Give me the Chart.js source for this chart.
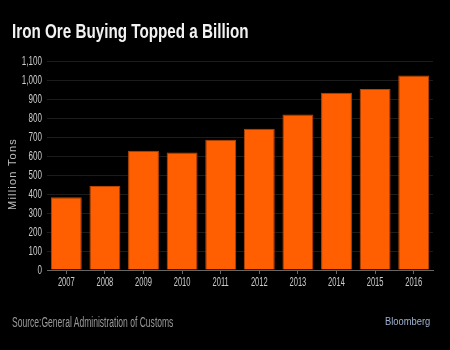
<html lang="en">
<head>
<meta charset="UTF-8">
<title>Iron Ore Buying Topped a Billion</title>
<script src="https://cdn.jsdelivr.net/npm/chart.js@4.4.0/dist/chart.umd.min.js"></script>
<style>
  body { margin: 0; background: #000; }
  #wrap { position: relative; width: 450px; height: 350px; background: #000; overflow: hidden; }
  .txt { position: absolute; white-space: nowrap; transform-origin: left top; font-family: "Liberation Sans", Arial, sans-serif; }
  #title { left: 12px; top: 19px; color: #f2f2f2; font-size: 21px; font-weight: bold; transform: scaleX(0.725); }
  #source { left: 12px; top: 314px; color: #9a9a9a; font-size: 14px; transform: scaleX(0.61); }
  #brand { left: 385px; top: 315px; color: #9fb2cf; font-size: 11px; transform: scaleX(0.85); }
  canvas { position: absolute; left: 0; top: 0; }
</style>
</head>
<body>
<div id="wrap">
  <canvas id="myChart" width="450" height="350"></canvas>
  <div class="txt" id="title">Iron Ore Buying Topped a Billion</div>
  <div class="txt" id="source">Source:General Administration of Customs</div>
  <div class="txt" id="brand">Bloomberg</div>
</div>
<script>
  // iron ore imports, million tons
  var years = ["2007", "2008", "2009", "2010", "2011", "2012", "2013", "2014", "2015", "2016"];
  var tons = [383, 442, 628, 618, 686, 744, 819, 933, 953, 1024];
  var yTicks = [0, 100, 200, 300, 400, 500, 600, 700, 800, 900, 1000, 1100];
  var yTitle = "Million Tons";

  // labels in the original use a very narrow face, so draw them squeezed
  var narrowLabels = {
    id: "narrowLabels",
    afterDraw: function (chart) {
      var ctx = chart.ctx;
      var xs = chart.scales.x, ys = chart.scales.y;
      ctx.save();
      ctx.fillStyle = "#cccccc";
      ctx.font = "13px 'Liberation Sans', Arial, sans-serif";
      ctx.textBaseline = "middle";
      xs.ticks.forEach(function (t, i) {
        ctx.save();
        ctx.translate(xs.getPixelForTick(i), 282);
        ctx.scale(0.58, 1);
        ctx.textAlign = "center";
        ctx.fillText(xs.getLabelForValue(t.value), 0, 0);
        ctx.restore();
      });
      ys.ticks.forEach(function (t) {
        ctx.save();
        ctx.translate(42, ys.getPixelForValue(t.value));
        ctx.scale(0.62, 1);
        ctx.textAlign = "right";
        ctx.fillText(t.value.toLocaleString("en-US"), 0, 0);
        ctx.restore();
      });
      ctx.fillStyle = "#bdbdbd";
      ctx.font = "11px 'Liberation Sans', Arial, sans-serif";
      ctx.letterSpacing = "1.2px";
      ctx.translate(13, 174);
      ctx.rotate(-Math.PI / 2);
      ctx.textAlign = "center";
      ctx.fillText(yTitle, 0, 0);
      ctx.restore();
    }
  };

  new Chart("myChart", {
    type: "bar",
    data: {
      labels: years,
      datasets: [{
        data: tons,
        backgroundColor: "#ff5f00",
        borderColor: "#b84500",
        borderWidth: 1,
        barPercentage: 0.8,
        categoryPercentage: 1
      }]
    },
    plugins: [narrowLabels],
    options: {
      responsive: false,
      animation: false,
      layout: { padding: { top: 61, right: 17, bottom: 0, left: 0 } },
      plugins: { legend: { display: false }, tooltip: { enabled: false } },
      scales: {
        x: {
          afterFit: function (s) { s.height = 80; },
          grid: { offset: false, drawOnChartArea: false, drawTicks: true, tickLength: 4, color: "#666" },
          border: { color: "#666" },
          ticks: { color: "transparent" }
        },
        y: {
          min: 0,
          max: 1100,
          afterFit: function (s) { s.width = 47; },
          afterBuildTicks: function (s) { s.ticks = yTicks.map(function (v) { return { value: v }; }); },
          grid: { color: "#1c1c1c", drawTicks: false },
          border: { display: false },
          ticks: { color: "transparent" }
        }
      }
    }
  });
</script>
</body>
</html>
